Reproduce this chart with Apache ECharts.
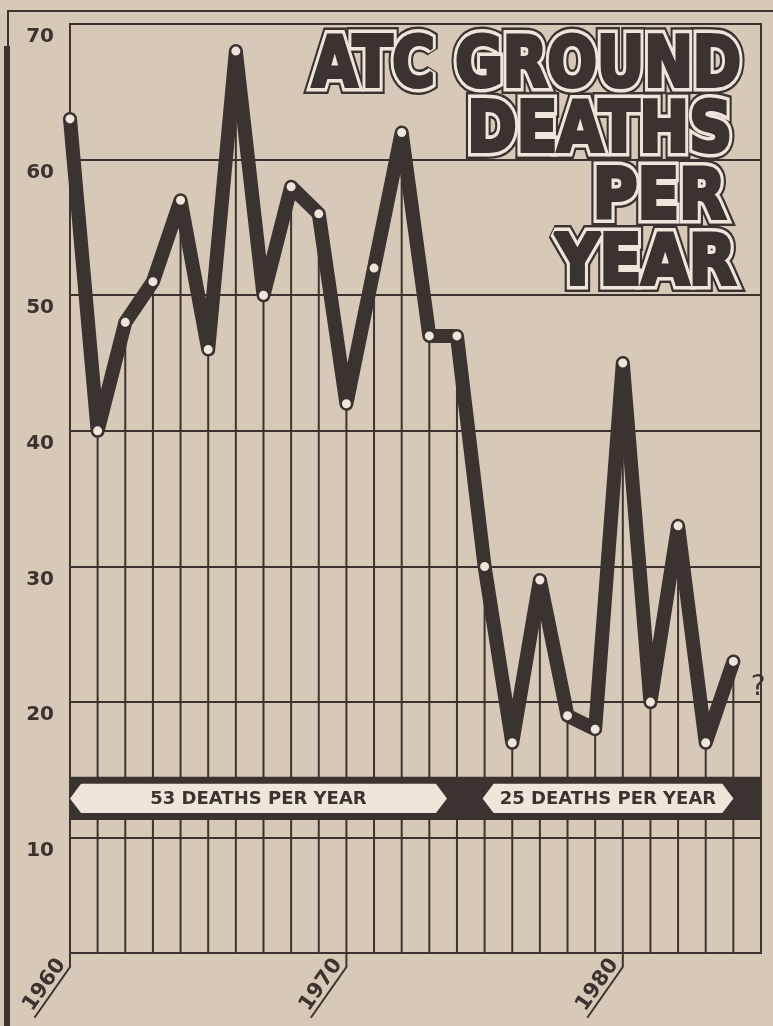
<!DOCTYPE html>
<html><head><meta charset="utf-8">
<script src="https://cdn.jsdelivr.net/npm/echarts@6/dist/echarts.min.js"></script>
<style>html,body{margin:0;padding:0;background:#d8cbbb;}#c{width:773px;height:1026px;}</style>
</head><body><div id="c"></div>
<script>
// ---- data ----
const years = ['1960','1961','1962','1963','1964','1965','1966','1967','1968','1969','1970','1971','1972','1973','1974','1975','1976','1977','1978','1979','1980','1981','1982','1983','1984','1985'];
const deaths = [63,40,48,51,57,46,68,50,58,56,42,52,62,47,47,30,17,29,19,18,45,20,33,17,23,null];
const yTickLabels = [10,20,30,40,50,60,70];
const gridValues = [10,20,30,40,50,60];
const labelYears = ['1960','1970','1980'];
const periodLabels = ['53 DEATHS PER YEAR','25 DEATHS PER YEAR'];
const periodFrom = ['1960','1975'];
const periodTo = ['1974','1984'];
const titleLines = ['ATC GROUND','DEATHS','PER','YEAR'];

// ---- style ----
const INK = '#3b3330', PAPER = '#d6c9b8', LIGHT = '#eee6db';
const FONT = 'DejaVu Sans';
const lastIdx = deaths.reduce((a, v, i) => v == null ? a : i, 0);

const chart = echarts.init(document.getElementById('c'), null, {renderer: 'canvas'});
const option = {
  backgroundColor: PAPER,
  animation: false,
  grid: {left: 70, top: 24, right: 12, bottom: 73, show: true, borderColor: INK, borderWidth: 2, backgroundColor: 'transparent'},
  xAxis: {
    type: 'category', data: years, boundaryGap: false,
    axisLine: {show: false},
    axisTick: {show: false},
    axisLabel: {interval: (i, v) => labelYears.includes(v), rotate: 55, margin: 14, verticalAlign: 'bottom', color: INK, fontFamily: FONT, fontWeight: 'bold', fontSize: 21},
    splitLine: {show: false}
  },
  yAxis: {
    type: 'value', min: 1.5, max: 70,
    axisLine: {show: false}, axisTick: {show: false}, splitLine: {show: false},
    axisLabel: {customValues: yTickLabels, margin: 16, verticalAlign: 'top', padding: [3, 0, 0, 0], color: INK, fontFamily: FONT, fontWeight: 'bold', fontSize: 20}
  },
  series: [
    {
      type: 'bar', data: deaths, barWidth: 2, z: 1, silent: true,
      itemStyle: {color: INK},
      markLine: {
        silent: true, symbol: ['none', 'none'], label: {show: false},
        lineStyle: {color: INK, width: 2, type: 'solid'},
        data: gridValues.map(v => ({yAxis: v}))
      }
    },
    {
      type: 'line', data: deaths, z: 5,
      lineStyle: {color: INK, width: 14, join: 'round', cap: 'round'},
      symbol: 'circle', symbolSize: 11, showAllSymbol: true,
      itemStyle: {color: LIGHT, borderColor: INK, borderWidth: 2},
      label: {show: true, formatter: p => p.dataIndex === lastIdx ? '?' : '', position: 'right', offset: [6, 26], color: INK, fontFamily: FONT, fontSize: 28}
    }
  ]
};
chart.setOption(option);

function px(cat) { return chart.convertToPixel({xAxisIndex: 0}, cat); }
function py(v) { return chart.convertToPixel({yAxisIndex: 0}, v); }

const els = [];
// outer frame decoration
els.push({type: 'polyline', z: 1, shape: {points: [[773, 11], [8, 11], [8, 47]]}, style: {stroke: INK, lineWidth: 2, fill: null}});
els.push({type: 'rect', z: 1, shape: {x: 4, y: 46, width: 6, height: 990}, style: {fill: INK}});

// band with period arrows
const gL = px(years[0]), gR = px(years[years.length - 1]);
const bandTop = py(14.5), bandBot = py(11.3);
els.push({type: 'rect', z: 10, shape: {x: gL, y: bandTop, width: gR - gL, height: bandBot - bandTop}, style: {fill: INK}});
const wTop = bandTop + 7, wBot = bandBot - 7, wMid = (wTop + wBot) / 2, tip = 11;
const tipAdj = [[0, -10], [-2, 0]];
periodLabels.forEach((lab, i) => {
  const l = px(periodFrom[i]) + tipAdj[i][0], r = px(periodTo[i]) + tipAdj[i][1];
  els.push({type: 'polygon', z: 11, shape: {points: [[l, wMid], [l + tip, wTop], [r - tip, wTop], [r, wMid], [r - tip, wBot], [l + tip, wBot]]}, style: {fill: LIGHT}});
  els.push({type: 'text', z: 12, style: {x: (l + r) / 2, y: wMid + 1, text: lab, textAlign: 'center', textVerticalAlign: 'middle', fill: INK, font: 'bold 18px "' + FONT + '"'}});
});

// tick stubs and diagonal underline strokes for year labels
const yb = py(1.5);
const ang = 55 * Math.PI / 180;
labelYears.forEach(y => {
  const x = px(y);
  const L = 62;
  els.push({type: 'polyline', z: 3, shape: {points: [[x, yb], [x, yb + 14], [x - L * Math.cos(ang), yb + 14 + L * Math.sin(ang)]]}, style: {stroke: INK, lineWidth: 2, fill: null}});
});

// title with outlined lettering
const tRight = [745, 736, 730, 740];
const tBase = [95, 160, 227, 293];
const tScale = [0.83, 0.85, 0.87, 0.875];
titleLines.forEach((t, i) => {
  const common = {text: t, x: 0, y: 0, textAlign: 'right', textVerticalAlign: 'bottom', font: 'bold 70px "' + FONT + '"', lineJoin: 'round'};
  const layers = [
    Object.assign({}, common, {fill: INK, stroke: INK, lineWidth: 16}),
    Object.assign({}, common, {fill: INK, stroke: LIGHT, lineWidth: 11}),
    Object.assign({}, common, {fill: INK, stroke: INK, lineWidth: 4})
  ];
  layers.forEach((s, k) => els.push({type: 'text', z: 20 + k, x: tRight[i] - 4, y: tBase[i] + 8, scaleX: tScale[i], style: s}));
});

chart.setOption({graphic: {elements: els}});
</script>
</body></html>
